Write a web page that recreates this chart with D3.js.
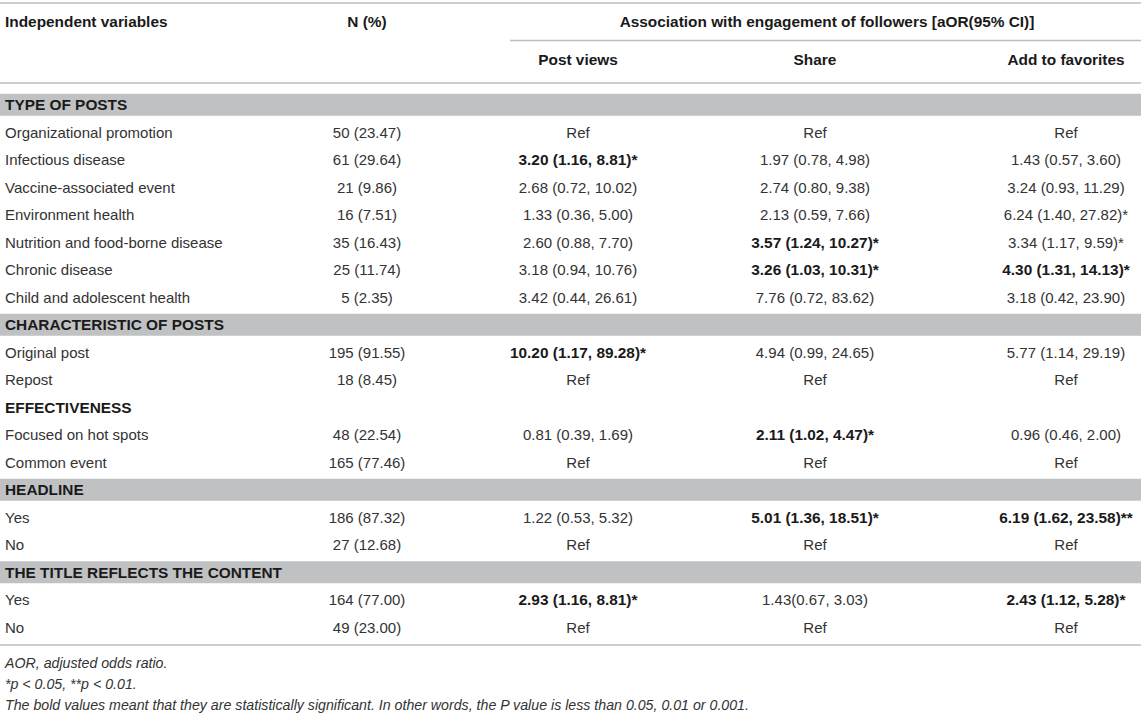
<!DOCTYPE html>
<html>
<head>
<meta charset="utf-8">
<script src="https://cdn.jsdelivr.net/npm/d3@7"></script>
<style>
  body { margin: 0; background: #fff; }
  text { font-family: "Liberation Sans", Arial, sans-serif; }
</style>
</head>
<body>
<div id="table"></div>
<script>
// table content
const rowLabels = [
    "TYPE OF POSTS",
    "Organizational promotion", "Infectious disease", "Vaccine-associated event",
    "Environment health", "Nutrition and food-borne disease", "Chronic disease",
    "Child and adolescent health",
    "CHARACTERISTIC OF POSTS",
    "Original post", "Repost",
    "EFFECTIVENESS",
    "Focused on hot spots", "Common event",
    "HEADLINE",
    "Yes", "No",
    "THE TITLE REFLECTS THE CONTENT",
    "Yes", "No"
];
const sectionRows = ["TYPE OF POSTS", "CHARACTERISTIC OF POSTS", "EFFECTIVENESS", "HEADLINE", "THE TITLE REFLECTS THE CONTENT"];
const shadedSections = ["TYPE OF POSTS", "CHARACTERISTIC OF POSTS", "HEADLINE", "THE TITLE REFLECTS THE CONTENT"];

// one entry per non-section row, in order
const nPercent = ["50 (23.47)", "61 (29.64)", "21 (9.86)", "16 (7.51)", "35 (16.43)", "25 (11.74)", "5 (2.35)",
    "195 (91.55)", "18 (8.45)", "48 (22.54)", "165 (77.46)", "186 (87.32)", "27 (12.68)", "164 (77.00)", "49 (23.00)"];
const postViews = ["Ref", "3.20 (1.16, 8.81)*", "2.68 (0.72, 10.02)", "1.33 (0.36, 5.00)", "2.60 (0.88, 7.70)",
    "3.18 (0.94, 10.76)", "3.42 (0.44, 26.61)", "10.20 (1.17, 89.28)*", "Ref", "0.81 (0.39, 1.69)", "Ref",
    "1.22 (0.53, 5.32)", "Ref", "2.93 (1.16, 8.81)*", "Ref"];
const share = ["Ref", "1.97 (0.78, 4.98)", "2.74 (0.80, 9.38)", "2.13 (0.59, 7.66)", "3.57 (1.24, 10.27)*",
    "3.26 (1.03, 10.31)*", "7.76 (0.72, 83.62)", "4.94 (0.99, 24.65)", "Ref", "2.11 (1.02, 4.47)*", "Ref",
    "5.01 (1.36, 18.51)*", "Ref", "1.43(0.67, 3.03)", "Ref"];
const favorites = ["Ref", "1.43 (0.57, 3.60)", "3.24 (0.93, 11.29)", "6.24 (1.40, 27.82)*", "3.34 (1.17, 9.59)*",
    "4.30 (1.31, 14.13)*", "3.18 (0.42, 23.90)", "5.77 (1.14, 29.19)", "Ref", "0.96 (0.46, 2.00)", "Ref",
    "6.19 (1.62, 23.58)**", "Ref", "2.43 (1.12, 5.28)*", "Ref"];
// statistically significant cells are set in bold
const postViewsBold = [0, 1, 0, 0, 0, 0, 0, 1, 0, 0, 0, 0, 0, 1, 0];
const shareBold     = [0, 0, 0, 0, 1, 1, 0, 0, 0, 1, 0, 1, 0, 0, 0];
const favoritesBold = [0, 0, 0, 0, 0, 1, 0, 0, 0, 0, 0, 1, 0, 1, 0];

const columnHeads = ["Post views", "Share", "Add to favorites"];
const footnotes = [
    "AOR, adjusted odds ratio.",
    "*p < 0.05, **p < 0.01.",
    "The bold values meant that they are statistically significant. In other words, the P value is less than 0.05, 0.01 or 0.001."
];

const WIDTH = 1144, HEIGHT = 718;
const LEFT = 5, RIGHT = 1141;
const FONT = 15, BOLD_FONT = 15.4;
const LINE = "#bdbdbd", SHADE = "#c0c1c3";

const svg = d3.select("#table").append("svg")
    .attr("width", WIDTH)
    .attr("height", HEIGHT);

// columns: label, N (%), then the three outcome columns
const colX = d3.scaleOrdinal()
    .domain(["n", "Post views", "Share", "Add to favorites"])
    .range([367, 578, 815, 1066]);

// body rows are evenly spaced
const y = d3.scaleBand()
    .domain(d3.range(rowLabels.length))
    .range([91, 91 + 27.5 * rowLabels.length]);
const rowMid = i => y(i) + y.bandwidth() / 2;

// rules
svg.append("line").attr("x1", 0).attr("x2", RIGHT).attr("y1", 3).attr("y2", 3)
    .attr("stroke", LINE).attr("stroke-width", 1.6);
svg.append("line").attr("x1", 510).attr("x2", RIGHT).attr("y1", 40.5).attr("y2", 40.5)
    .attr("stroke", LINE).attr("stroke-width", 1.4);
svg.append("line").attr("x1", 0).attr("x2", RIGHT).attr("y1", 83).attr("y2", 83)
    .attr("stroke", LINE).attr("stroke-width", 1.6);

// header text
const head = svg.append("g")
    .style("font-size", BOLD_FONT + "px")
    .style("font-weight", "bold")
    .attr("fill", "#1a1a1a");
head.append("text").attr("x", LEFT).attr("y", 27).text("Independent variables");
head.append("text").attr("x", colX("n")).attr("y", 27).attr("text-anchor", "middle").text("N (%)");
head.append("text").attr("x", 827).attr("y", 27).attr("text-anchor", "middle")
    .text("Association with engagement of followers [aOR(95% CI)]");
head.selectAll(".colhead")
    .data(columnHeads)
    .enter().append("text")
    .attr("class", "colhead")
    .attr("x", d => colX(d))
    .attr("y", 65)
    .attr("text-anchor", "middle")
    .text(d => d);

// shaded section bands
svg.selectAll(".band")
    .data(rowLabels.map((d, i) => ({ label: d, i })).filter(d => shadedSections.includes(d.label)))
    .enter().append("rect")
    .attr("class", "band")
    .attr("x", 0)
    .attr("width", RIGHT)
    .attr("y", d => rowMid(d.i) - 11)
    .attr("height", 22)
    .attr("fill", SHADE);

// pair every item row with its values
let k = 0;
const rows = rowLabels.map((label, i) => {
    const isSection = sectionRows.includes(label);
    const r = { label, i, isSection };
    if (!isSection) {
        r.cells = [
            { col: "n", text: nPercent[k], bold: false },
            { col: "Post views", text: postViews[k], bold: postViewsBold[k] === 1 },
            { col: "Share", text: share[k], bold: shareBold[k] === 1 },
            { col: "Add to favorites", text: favorites[k], bold: favoritesBold[k] === 1 }
        ];
        k++;
    }
    return r;
});

const rowG = svg.selectAll(".row")
    .data(rows)
    .enter().append("g")
    .attr("class", "row")
    .attr("transform", d => `translate(0, ${rowMid(d.i) + 5.5})`);

rowG.append("text")
    .attr("x", LEFT)
    .attr("fill", d => d.isSection ? "#1a1a1a" : "#333")
    .style("font-size", d => (d.isSection ? BOLD_FONT : FONT) + "px")
    .style("font-weight", d => d.isSection ? "bold" : "normal")
    .text(d => d.label);

rowG.filter(d => !d.isSection)
    .selectAll(".cell")
    .data(d => d.cells)
    .enter().append("text")
    .attr("class", "cell")
    .attr("x", d => colX(d.col))
    .attr("text-anchor", "middle")
    .attr("fill", d => d.bold ? "#1a1a1a" : "#333")
    .style("font-size", d => (d.bold ? BOLD_FONT : FONT) + "px")
    .style("font-weight", d => d.bold ? "bold" : "normal")
    .text(d => d.text);

// bottom rule
const bottom = y(rowLabels.length - 1) + y.bandwidth() + 4;
svg.append("line").attr("x1", 0).attr("x2", RIGHT).attr("y1", bottom).attr("y2", bottom)
    .attr("stroke", LINE).attr("stroke-width", 1.6);

// footnotes
svg.selectAll(".note")
    .data(footnotes)
    .enter().append("text")
    .attr("class", "note")
    .attr("x", LEFT)
    .attr("y", (d, i) => bottom + 23 + i * 21)
    .style("font-size", "14.2px")
    .style("font-style", "italic")
    .attr("fill", "#333")
    .text(d => d);
</script>
</body>
</html>
